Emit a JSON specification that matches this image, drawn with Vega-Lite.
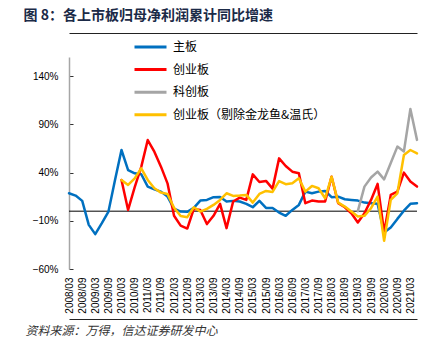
{
  "$schema": "https://vega.github.io/schema/vega-lite/v6.json",
  "autosize": "none",
  "width": 348,
  "height": 212,
  "padding": {"left": 69, "top": 57, "right": 30, "bottom": 84},
  "background": "white",
  "data": {"values": [
    {"date": "2008-03", "series": "主板", "value": 18.6},
    {"date": "2008-06", "series": "主板", "value": 16.2},
    {"date": "2008-09", "series": "主板", "value": 10.7},
    {"date": "2008-12", "series": "主板", "value": -14.2},
    {"date": "2009-03", "series": "主板", "value": -23.8},
    {"date": "2009-06", "series": "主板", "value": -12.4},
    {"date": "2009-09", "series": "主板", "value": -0.4},
    {"date": "2009-12", "series": "主板", "value": 32.4},
    {"date": "2010-03", "series": "主板", "value": 63.5},
    {"date": "2010-06", "series": "主板", "value": 42.7},
    {"date": "2010-09", "series": "主板", "value": 39.3},
    {"date": "2010-12", "series": "主板", "value": 38.3},
    {"date": "2011-03", "series": "主板", "value": 25.5},
    {"date": "2011-06", "series": "主板", "value": 22.7},
    {"date": "2011-09", "series": "主板", "value": 20.3},
    {"date": "2011-12", "series": "主板", "value": 15.1},
    {"date": "2012-03", "series": "主板", "value": 2.5},
    {"date": "2012-06", "series": "主板", "value": -0.4},
    {"date": "2012-09", "series": "主板", "value": -0.7},
    {"date": "2012-12", "series": "主板", "value": 3.4},
    {"date": "2013-03", "series": "主板", "value": 11.0},
    {"date": "2013-06", "series": "主板", "value": 11.7},
    {"date": "2013-09", "series": "主板", "value": 14.5},
    {"date": "2013-12", "series": "主板", "value": 14.8},
    {"date": "2014-03", "series": "主板", "value": 10.0},
    {"date": "2014-06", "series": "主板", "value": 10.7},
    {"date": "2014-09", "series": "主板", "value": 10.0},
    {"date": "2014-12", "series": "主板", "value": 7.6},
    {"date": "2015-03", "series": "主板", "value": 4.1},
    {"date": "2015-06", "series": "主板", "value": 10.7},
    {"date": "2015-09", "series": "主板", "value": 3.4},
    {"date": "2015-12", "series": "主板", "value": 3.4},
    {"date": "2016-03", "series": "主板", "value": -1.4},
    {"date": "2016-06", "series": "主板", "value": -4.8},
    {"date": "2016-09", "series": "主板", "value": 1.3},
    {"date": "2016-12", "series": "主板", "value": 6.5},
    {"date": "2017-03", "series": "主板", "value": 20.3},
    {"date": "2017-06", "series": "主板", "value": 18.6},
    {"date": "2017-09", "series": "主板", "value": 20.3},
    {"date": "2017-12", "series": "主板", "value": 21.0},
    {"date": "2018-03", "series": "主板", "value": 14.5},
    {"date": "2018-06", "series": "主板", "value": 15.1},
    {"date": "2018-09", "series": "主板", "value": 12.4},
    {"date": "2018-12", "series": "主板", "value": 11.7},
    {"date": "2019-03", "series": "主板", "value": 11.0},
    {"date": "2019-06", "series": "主板", "value": 8.9},
    {"date": "2019-09", "series": "主板", "value": 8.3},
    {"date": "2019-12", "series": "主板", "value": 7.6},
    {"date": "2020-03", "series": "主板", "value": -22.0},
    {"date": "2020-06", "series": "主板", "value": -17.0},
    {"date": "2020-09", "series": "主板", "value": -8.0},
    {"date": "2020-12", "series": "主板", "value": 0.5},
    {"date": "2021-03", "series": "主板", "value": 7.6},
    {"date": "2021-06", "series": "主板", "value": 8.3},
    {"date": "2010-03", "series": "创业板", "value": 32.4},
    {"date": "2010-06", "series": "创业板", "value": 1.3},
    {"date": "2010-09", "series": "创业板", "value": 25.0},
    {"date": "2010-12", "series": "创业板", "value": 46.0},
    {"date": "2011-03", "series": "创业板", "value": 73.8},
    {"date": "2011-06", "series": "创业板", "value": 61.7},
    {"date": "2011-09", "series": "创业板", "value": 46.2},
    {"date": "2011-12", "series": "创业板", "value": 28.9},
    {"date": "2012-03", "series": "创业板", "value": -4.8},
    {"date": "2012-06", "series": "创业板", "value": -15.0},
    {"date": "2012-09", "series": "创业板", "value": -18.0},
    {"date": "2012-12", "series": "创业板", "value": 2.4},
    {"date": "2013-03", "series": "创业板", "value": 1.3},
    {"date": "2013-06", "series": "创业板", "value": -13.4},
    {"date": "2013-09", "series": "创业板", "value": -4.8},
    {"date": "2013-12", "series": "创业板", "value": 7.6},
    {"date": "2014-03", "series": "创业板", "value": -17.6},
    {"date": "2014-06", "series": "创业板", "value": 10.0},
    {"date": "2014-09", "series": "创业板", "value": 14.1},
    {"date": "2014-12", "series": "创业板", "value": 11.7},
    {"date": "2015-03", "series": "创业板", "value": 38.2},
    {"date": "2015-06", "series": "创业板", "value": 30.3},
    {"date": "2015-09", "series": "创业板", "value": 31.4},
    {"date": "2015-12", "series": "创业板", "value": 23.4},
    {"date": "2016-03", "series": "创业板", "value": 54.8},
    {"date": "2016-06", "series": "创业板", "value": 46.9},
    {"date": "2016-09", "series": "创业板", "value": 41.0},
    {"date": "2016-12", "series": "创业板", "value": 39.3},
    {"date": "2017-03", "series": "创业板", "value": 8.3},
    {"date": "2017-06", "series": "创业板", "value": 11.0},
    {"date": "2017-09", "series": "创业板", "value": 10.0},
    {"date": "2017-12", "series": "创业板", "value": 10.0},
    {"date": "2018-03", "series": "创业板", "value": 35.8},
    {"date": "2018-06", "series": "创业板", "value": 8.3},
    {"date": "2018-09", "series": "创业板", "value": 4.1},
    {"date": "2018-12", "series": "创业板", "value": -2.1},
    {"date": "2019-03", "series": "创业板", "value": -11.7},
    {"date": "2019-06", "series": "创业板", "value": -2.1},
    {"date": "2019-09", "series": "创业板", "value": 11.7},
    {"date": "2019-12", "series": "创业板", "value": 28.3},
    {"date": "2020-03", "series": "创业板", "value": -22.0},
    {"date": "2020-06", "series": "创业板", "value": 16.9},
    {"date": "2020-09", "series": "创业板", "value": 20.3},
    {"date": "2020-12", "series": "创业板", "value": 40.0},
    {"date": "2021-03", "series": "创业板", "value": 30.7},
    {"date": "2021-06", "series": "创业板", "value": 25.5},
    {"date": "2019-03", "series": "科创板", "value": 0.0},
    {"date": "2019-06", "series": "科创板", "value": 25.5},
    {"date": "2019-09", "series": "科创板", "value": 35.0},
    {"date": "2019-12", "series": "科创板", "value": 41.0},
    {"date": "2020-03", "series": "科创板", "value": 33.0},
    {"date": "2020-06", "series": "科创板", "value": 50.0},
    {"date": "2020-09", "series": "科创板", "value": 67.0},
    {"date": "2020-12", "series": "科创板", "value": 62.0},
    {"date": "2021-03", "series": "科创板", "value": 106.0},
    {"date": "2021-06", "series": "科创板", "value": 74.0},
    {"date": "2010-03", "series": "创业板（剔除金龙鱼&温氏）", "value": 32.4},
    {"date": "2010-06", "series": "创业板（剔除金龙鱼&温氏）", "value": 27.2},
    {"date": "2010-09", "series": "创业板（剔除金龙鱼&温氏）", "value": 34.1},
    {"date": "2010-12", "series": "创业板（剔除金龙鱼&温氏）", "value": 44.5},
    {"date": "2011-03", "series": "创业板（剔除金龙鱼&温氏）", "value": 32.4},
    {"date": "2011-06", "series": "创业板（剔除金龙鱼&温氏）", "value": 23.8},
    {"date": "2011-09", "series": "创业板（剔除金龙鱼&温氏）", "value": 19.3},
    {"date": "2011-12", "series": "创业板（剔除金龙鱼&温氏）", "value": 17.9},
    {"date": "2012-03", "series": "创业板（剔除金龙鱼&温氏）", "value": 3.5},
    {"date": "2012-06", "series": "创业板（剔除金龙鱼&温氏）", "value": -5.0},
    {"date": "2012-09", "series": "创业板（剔除金龙鱼&温氏）", "value": -6.2},
    {"date": "2012-12", "series": "创业板（剔除金龙鱼&温氏）", "value": 4.1},
    {"date": "2013-03", "series": "创业板（剔除金龙鱼&温氏）", "value": -0.4},
    {"date": "2013-06", "series": "创业板（剔除金龙鱼&温氏）", "value": 2.4},
    {"date": "2013-09", "series": "创业板（剔除金龙鱼&温氏）", "value": 6.5},
    {"date": "2013-12", "series": "创业板（剔除金龙鱼&温氏）", "value": 11.7},
    {"date": "2014-03", "series": "创业板（剔除金龙鱼&温氏）", "value": 18.6},
    {"date": "2014-06", "series": "创业板（剔除金龙鱼&温氏）", "value": 15.8},
    {"date": "2014-09", "series": "创业板（剔除金龙鱼&温氏）", "value": 16.2},
    {"date": "2014-12", "series": "创业板（剔除金龙鱼&温氏）", "value": 16.9},
    {"date": "2015-03", "series": "创业板（剔除金龙鱼&温氏）", "value": 8.9},
    {"date": "2015-06", "series": "创业板（剔除金龙鱼&温氏）", "value": 17.9},
    {"date": "2015-09", "series": "创业板（剔除金龙鱼&温氏）", "value": 21.0},
    {"date": "2015-12", "series": "创业板（剔除金龙鱼&温氏）", "value": 20.0},
    {"date": "2016-03", "series": "创业板（剔除金龙鱼&温氏）", "value": 31.2},
    {"date": "2016-06", "series": "创业板（剔除金龙鱼&温氏）", "value": 28.0},
    {"date": "2016-09", "series": "创业板（剔除金龙鱼&温氏）", "value": 29.0},
    {"date": "2016-12", "series": "创业板（剔除金龙鱼&温氏）", "value": 34.1},
    {"date": "2017-03", "series": "创业板（剔除金龙鱼&温氏）", "value": 20.3},
    {"date": "2017-06", "series": "创业板（剔除金龙鱼&温氏）", "value": 26.2},
    {"date": "2017-09", "series": "创业板（剔除金龙鱼&温氏）", "value": 23.8},
    {"date": "2017-12", "series": "创业板（剔除金龙鱼&温氏）", "value": 13.4},
    {"date": "2018-03", "series": "创业板（剔除金龙鱼&温氏）", "value": 35.8},
    {"date": "2018-06", "series": "创业板（剔除金龙鱼&温氏）", "value": 8.9},
    {"date": "2018-09", "series": "创业板（剔除金龙鱼&温氏）", "value": 4.8},
    {"date": "2018-12", "series": "创业板（剔除金龙鱼&温氏）", "value": -0.4},
    {"date": "2019-03", "series": "创业板（剔除金龙鱼&温氏）", "value": -5.5},
    {"date": "2019-06", "series": "创业板（剔除金龙鱼&温氏）", "value": -4.8},
    {"date": "2019-09", "series": "创业板（剔除金龙鱼&温氏）", "value": 3.1},
    {"date": "2019-12", "series": "创业板（剔除金龙鱼&温氏）", "value": 15.1},
    {"date": "2020-03", "series": "创业板（剔除金龙鱼&温氏）", "value": -30.7},
    {"date": "2020-06", "series": "创业板（剔除金龙鱼&温氏）", "value": 11.7},
    {"date": "2020-09", "series": "创业板（剔除金龙鱼&温氏）", "value": 18.6},
    {"date": "2020-12", "series": "创业板（剔除金龙鱼&温氏）", "value": 58.3},
    {"date": "2021-03", "series": "创业板（剔除金龙鱼&温氏）", "value": 63.5},
    {"date": "2021-06", "series": "创业板（剔除金龙鱼&温氏）", "value": 60.0}
  ]},
  "resolve": {"axis": {"x": "independent"}},
  "layer": [
    {
      "mark": {"type": "rule", "color": "#000000", "strokeWidth": 1},
      "encoding": {
        "x": {"aggregate": "min", "field": "date", "type": "temporal",
          "scale": {"type": "utc", "domain": [{"year": 2008, "month": 3, "utc": true}, {"year": 2021, "month": 6, "utc": true}]},
          "axis": {"orient": "top", "offset": 24, "domain": true, "domainColor": "#222222", "domainWidth": 1, "labels": false, "ticks": false, "grid": false,
            "title": "图 8：各上市板归母净利润累计同比增速", "titleFont": "Noto Sans CJK SC", "titleFontSize": 14, "titleFontWeight": "bold", "titleColor": "#1b2a47",
            "titleAnchor": "start", "titleAlign": "left", "titleBaseline": "middle", "titleX": -46, "titleY": -18}},
        "x2": {"aggregate": "max", "field": "date"},
        "y": {"datum": 0, "type": "quantitative",
          "scale": {"domain": [-60, 160], "nice": false, "zero": false},
          "axis": {"values": [-60, -10, 40, 90, 140], "labelExpr": "format(datum.value, 'd') + '%'", "grid": false, "title": null,
            "domainColor": "#a6a6a6", "domainWidth": 1.5, "tickColor": "#333333", "tickSize": -4, "labelPadding": 15, "labelFontSize": 10, "labelColor": "#000000"}}
      }
    },
    {
      "transform": [{"filter": "datum.series !== '创业板（剔除金龙鱼&温氏）'"}],
      "mark": {"type": "line", "strokeWidth": 2.5, "strokeJoin": "round", "strokeCap": "round"},
      "encoding": {
        "x": {"field": "date", "type": "temporal",
          "axis": {"orient": "bottom", "values": [
            {"year": 2008, "month": 3, "utc": true}, {"year": 2008, "month": 9, "utc": true},
            {"year": 2009, "month": 3, "utc": true}, {"year": 2009, "month": 9, "utc": true},
            {"year": 2010, "month": 3, "utc": true}, {"year": 2010, "month": 9, "utc": true},
            {"year": 2011, "month": 3, "utc": true}, {"year": 2011, "month": 9, "utc": true},
            {"year": 2012, "month": 3, "utc": true}, {"year": 2012, "month": 9, "utc": true},
            {"year": 2013, "month": 3, "utc": true}, {"year": 2013, "month": 9, "utc": true},
            {"year": 2014, "month": 3, "utc": true}, {"year": 2014, "month": 9, "utc": true},
            {"year": 2015, "month": 3, "utc": true}, {"year": 2015, "month": 9, "utc": true},
            {"year": 2016, "month": 3, "utc": true}, {"year": 2016, "month": 9, "utc": true},
            {"year": 2017, "month": 3, "utc": true}, {"year": 2017, "month": 9, "utc": true},
            {"year": 2018, "month": 3, "utc": true}, {"year": 2018, "month": 9, "utc": true},
            {"year": 2019, "month": 3, "utc": true}, {"year": 2019, "month": 9, "utc": true},
            {"year": 2020, "month": 3, "utc": true}, {"year": 2020, "month": 9, "utc": true},
            {"year": 2021, "month": 3, "utc": true}],
            "labelExpr": "utcFormat(datum.value, '%Y/%m')", "labelAngle": -90, "labelFontSize": 10, "labelColor": "#000000",
            "labelPadding": 8, "ticks": false, "domain": false, "grid": false, "title": null, "labelOverlap": false, "labelFlush": false}},
        "y": {"field": "value", "type": "quantitative",
          "axis": {"values": [-60, -10, 40, 90, 140], "labelExpr": "format(datum.value, 'd') + '%'", "grid": false, "title": null,
            "domainColor": "#a6a6a6", "domainWidth": 1.5, "tickColor": "#333333", "tickSize": -4, "labelPadding": 15, "labelFontSize": 10, "labelColor": "#000000"}},
        "color": {"field": "series", "type": "nominal",
          "scale": {"domain": ["主板", "创业板", "科创板", "创业板（剔除金龙鱼&温氏）"], "range": ["#0070C0", "#FF0000", "#A5A5A5", "#FFC000"]},
          "legend": {"orient": "none", "legendX": 64, "legendY": -20, "title": null, "direction": "vertical"}}
      }
    },
    {
      "transform": [{"filter": "datum.series === '创业板（剔除金龙鱼&温氏）'"}],
      "mark": {"type": "line", "strokeWidth": 2.5, "strokeJoin": "round", "strokeCap": "round"},
      "encoding": {
        "x": {"field": "date", "type": "temporal",
          "axis": {"orient": "bottom", "offset": 50, "domain": true, "domainColor": "#222222", "domainWidth": 1, "labels": false, "ticks": false, "grid": false,
            "title": "资料来源：万得，信达证券研发中心", "titleFont": "Noto Sans CJK SC", "titleFontSize": 12, "titleFontWeight": "normal", "titleFontStyle": "italic", "titleColor": "#333333",
            "titleAnchor": "start", "titleAlign": "left", "titleBaseline": "middle", "titleX": -44, "titleY": 11}},
        "y": {"field": "value", "type": "quantitative",
          "axis": {"values": [-60, -10, 40, 90, 140], "labelExpr": "format(datum.value, 'd') + '%'", "grid": false, "title": null,
            "domainColor": "#a6a6a6", "domainWidth": 1.5, "tickColor": "#333333", "tickSize": -4, "labelPadding": 15, "labelFontSize": 10, "labelColor": "#000000"}},
        "color": {"field": "series", "type": "nominal",
          "legend": {"orient": "none", "legendX": 64, "legendY": -20, "title": null, "direction": "vertical"}}
      }
    }
  ],
  "config": {
    "view": {"stroke": null},
    "font": "Liberation Sans",
    "axis": {"labelFont": "Liberation Sans"},
    "legend": {"labelFont": "Noto Sans CJK SC", "labelFontSize": 12, "labelColor": "#000000", "symbolType": "stroke", "symbolSize": 1024, "symbolStrokeWidth": 3,
      "labelOffset": 5, "clipHeight": 20, "rowPadding": 2.6, "padding": 0, "labelLimit": 300}
  }
}
